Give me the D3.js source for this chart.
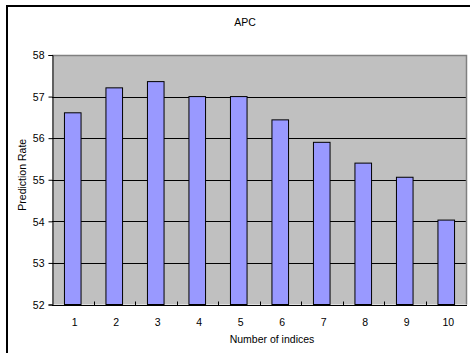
<!DOCTYPE html>
<html>
<head>
<meta charset="utf-8">
<script src="https://cdn.jsdelivr.net/npm/d3@7"></script>
<style>
  html, body { margin: 0; padding: 0; background: #fff; }
  svg { display: block; }
  text { font-family: "Liberation Sans", Arial, sans-serif; fill: #000; }
</style>
</head>
<body>
<script>
// Prediction rate by number of indices
const categories = ["1", "2", "3", "4", "5", "6", "7", "8", "9", "10"];
const rates = [56.61, 57.21, 57.36, 57.0, 57.0, 56.44, 55.9, 55.4, 55.06, 54.03];
const yTicks = [52, 53, 54, 55, 56, 57, 58];
const title = "APC";
const xTitle = "Number of indices";
const yTitle = "Prediction Rate";

const W = 470, H = 353;
const plot = { left: 52, right: 467, top: 55, bottom: 304.5 };

const svg = d3.select("body").append("svg")
  .attr("width", W).attr("height", H);

// Chart area frame
svg.append("rect")
  .attr("x", 7).attr("y", 6)
  .attr("width", W + 10).attr("height", H + 10)
  .attr("fill", "#fff")
  .attr("stroke", "#000").attr("stroke-width", 2);

const x = d3.scaleBand()
  .domain(categories)
  .range([plot.left, plot.right])
  .paddingInner(0.6).paddingOuter(0.3);

const band = d3.scaleBand()
  .domain(categories)
  .range([plot.left, plot.right]);

const y = d3.scaleLinear()
  .domain([52, 58])
  .range([plot.bottom, plot.top]);

// Plot background
svg.append("rect")
  .attr("x", plot.left).attr("y", plot.top)
  .attr("width", plot.right - plot.left)
  .attr("height", plot.bottom - plot.top)
  .attr("fill", "#c0c0c0");

// Horizontal gridlines
svg.append("g")
  .selectAll("line")
  .data(yTicks.filter(t => t > 52 && t < 58))
  .join("line")
  .attr("x1", plot.left).attr("x2", plot.right)
  .attr("y1", d => Math.round(y(d)) + 0.5)
  .attr("y2", d => Math.round(y(d)) + 0.5)
  .attr("stroke", "#000").attr("stroke-width", 1);

// Top and right plot border
svg.append("path")
  .attr("d", `M${plot.left},${Math.round(plot.top) + 0.5}H${plot.right - 0.5}V${plot.bottom}`)
  .attr("fill", "none")
  .attr("stroke", "#808080").attr("stroke-width", 1.5);

// Bars
svg.append("g")
  .selectAll("rect")
  .data(rates)
  .join("rect")
  .attr("x", (d, i) => x(categories[i]))
  .attr("width", x.bandwidth())
  .attr("y", d => y(d))
  .attr("height", d => y(52) - y(d))
  .attr("fill", "#9999ff")
  .attr("stroke", "#000").attr("stroke-width", 1);

// Y axis
const yAxis = d3.axisLeft(y)
  .tickValues(yTicks)
  .tickSize(4)
  .tickPadding(4)
  .tickFormat(d3.format("d"));

svg.append("g")
  .attr("transform", `translate(${plot.left + 0.5},0)`)
  .call(yAxis)
  .call(g => g.select(".domain").attr("stroke", "#000"))
  .call(g => g.selectAll(".tick line").attr("stroke", "#000"))
  .call(g => g.selectAll("text").attr("font-size", 10.5).attr("dy", "0.35em"));

// X axis: ticks between categories pointing inward, labels centred on each category
const xg = svg.append("g")
  .attr("transform", `translate(0,${Math.round(plot.bottom) + 0.5})`);

xg.append("line")
  .attr("x1", plot.left).attr("x2", plot.right)
  .attr("stroke", "#000");

xg.selectAll("line.tick")
  .data(categories.slice(1))
  .join("line")
  .attr("class", "tick")
  .attr("x1", d => Math.round(band(d)) + 0.5)
  .attr("x2", d => Math.round(band(d)) + 0.5)
  .attr("y1", 0).attr("y2", -4)
  .attr("stroke", "#000");

xg.selectAll("text")
  .data(categories)
  .join("text")
  .attr("x", d => band(d) + band.bandwidth() / 2 + 2)
  .attr("y", 20)
  .attr("text-anchor", "middle")
  .attr("font-size", 10.5)
  .text(d => d);

// Titles
svg.append("text")
  .attr("x", 245).attr("y", 26)
  .attr("text-anchor", "middle")
  .attr("font-size", 10.5)
  .text(title);

svg.append("text")
  .attr("x", 272).attr("y", 343)
  .attr("text-anchor", "middle")
  .attr("font-size", 10.5)
  .text(xTitle);

svg.append("text")
  .attr("transform", `translate(26,${(plot.top + plot.bottom) / 2 - 5}) rotate(-90)`)
  .attr("text-anchor", "middle")
  .attr("font-size", 10.5)
  .text(yTitle);
</script>
</body>
</html>
